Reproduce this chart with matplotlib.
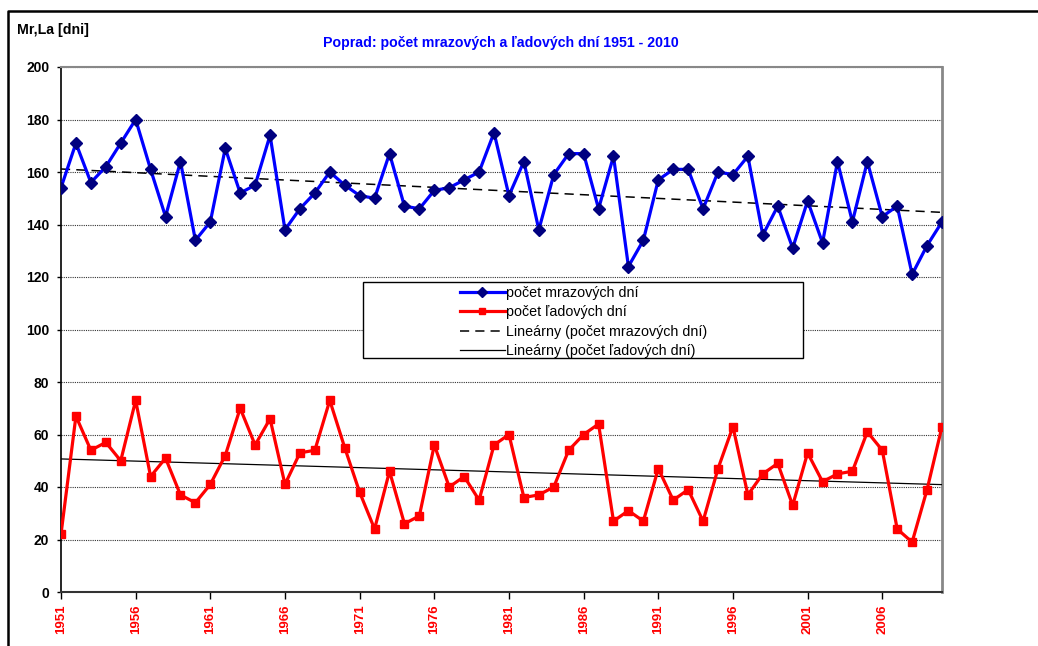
import matplotlib
matplotlib.use("Agg")
import matplotlib.pyplot as plt
from matplotlib.lines import Line2D
from matplotlib.patches import Rectangle
import numpy as np

plt.rcParams['font.family'] = ['Liberation Sans', 'DejaVu Sans']

years = list(range(1951, 2011))
frost_days = [154, 171, 156, 162, 171, 180, 161, 143, 164, 134,
              141, 169, 152, 155, 174, 138, 146, 152, 160, 155,
              151, 150, 167, 147, 146, 153, 154, 157, 160, 175,
              151, 164, 138, 159, 167, 167, 146, 166, 124, 134,
              157, 161, 161, 146, 160, 159, 166, 136, 147, 131,
              149, 133, 164, 141, 164, 143, 147, 121, 132, 141]
ice_days = [22, 67, 54, 57, 50, 73, 44, 51, 37, 34,
            41, 52, 70, 56, 66, 41, 53, 54, 73, 55,
            38, 24, 46, 26, 29, 56, 40, 44, 35, 56,
            60, 36, 37, 40, 54, 60, 64, 27, 31, 27,
            47, 35, 39, 27, 47, 63, 37, 45, 49, 33,
            53, 42, 45, 46, 61, 54, 24, 19, 39, 63]
x_tick_years = list(range(1951, 2010, 5))
y_ticks = list(range(0, 201, 20))

title = "Poprad: počet mrazových a ľadových dní 1951 - 2010"
y_label = "Mr,La [dni]"
labels = ["počet mrazových dní", "počet ľadových dní",
          "Lineárny (počet mrazových dní)", "Lineárny (počet ľadových dní)"]

W, H = 1038, 646
fig = plt.figure(figsize=(W / 100, H / 100), dpi=100)
ax = fig.add_axes([61 / W, 1 - 592 / H, (942 - 61) / W, (592 - 67) / H])

yrs = np.array(years, dtype=float)
fr = np.array(frost_days, dtype=float)
ic = np.array(ice_days, dtype=float)

l1, = ax.plot(yrs, fr, color='#0000FF', lw=2.3, marker='D', ms=6.2,
              mfc='#000080', mec='#000080', zorder=4)
l2, = ax.plot(yrs, ic, color='#FF0000', lw=2.3, marker='s', ms=5.3,
              mfc='#FF0000', mec='#FF0000', zorder=4)
p1 = np.polyfit(yrs, fr, 1)
p2 = np.polyfit(yrs, ic, 1)
l3, = ax.plot(yrs, np.polyval(p1, yrs), color='black', lw=1.1,
              ls=(0, (6, 4)), zorder=3)
l4, = ax.plot(yrs, np.polyval(p2, yrs), color='black', lw=0.9, zorder=3)

ax.set_xlim(1951, 2010)
ax.set_ylim(0, 200)
ax.set_yticks(y_ticks)
ax.set_xticks(x_tick_years)
ax.set_xticklabels([str(y) for y in x_tick_years], rotation=90,
                   color='#FF0000', fontweight='bold', fontsize=9.5)
for t in ax.get_yticklabels():
    t.set_fontweight('bold')
    t.set_fontsize(10)
ax.tick_params(axis='y', length=3, width=1, pad=5.5, direction='out')
ax.tick_params(axis='x', length=5, width=1, pad=4, direction='out')

ax.grid(axis='y', color='#333333', lw=0.8, ls=(0, (1, 1)), zorder=1)
ax.set_axisbelow(True)

ax.spines['left'].set_color('black')
ax.spines['left'].set_linewidth(1.2)
ax.spines['bottom'].set_color('#333333')
ax.spines['bottom'].set_linewidth(1.5)
ax.spines['top'].set_color('#888888')
ax.spines['top'].set_linewidth(1.5)
ax.spines['right'].set_color('#888888')
ax.spines['right'].set_linewidth(2)

# legend box
box = Rectangle((363 / W, 1 - 358 / H), (803 - 363) / W, (358 - 282) / H,
                transform=fig.transFigure, facecolor='white',
                edgecolor='black', lw=1, zorder=5)
fig.add_artist(box)
leg = fig.legend([l1, l2, l3, l4], labels, loc='upper left',
                 bbox_to_anchor=(456 / W, 1 - 282 / H), frameon=False,
                 fontsize=10.3, handlelength=3.1, handletextpad=0.08,
                 labelspacing=0.36, borderpad=0.3, borderaxespad=0,
                 markerscale=0.8)
leg.set_zorder(6)

fig.text(501 / W, 1 - 43 / H, title, color='#0000FF', fontweight='bold',
         fontsize=10.2, ha='center', va='center')
fig.text(17 / W, 1 - 30 / H, y_label, color='black', fontweight='bold',
         fontsize=10.2, ha='left', va='center')

# outer chart border
fig.add_artist(Line2D([8 / W, 8 / W, 1.0], [0.0, 1 - 11 / H, 1 - 11 / H],
                      transform=fig.transFigure, color='black', lw=1.8))

fig.savefig("out.png", dpi=100)
